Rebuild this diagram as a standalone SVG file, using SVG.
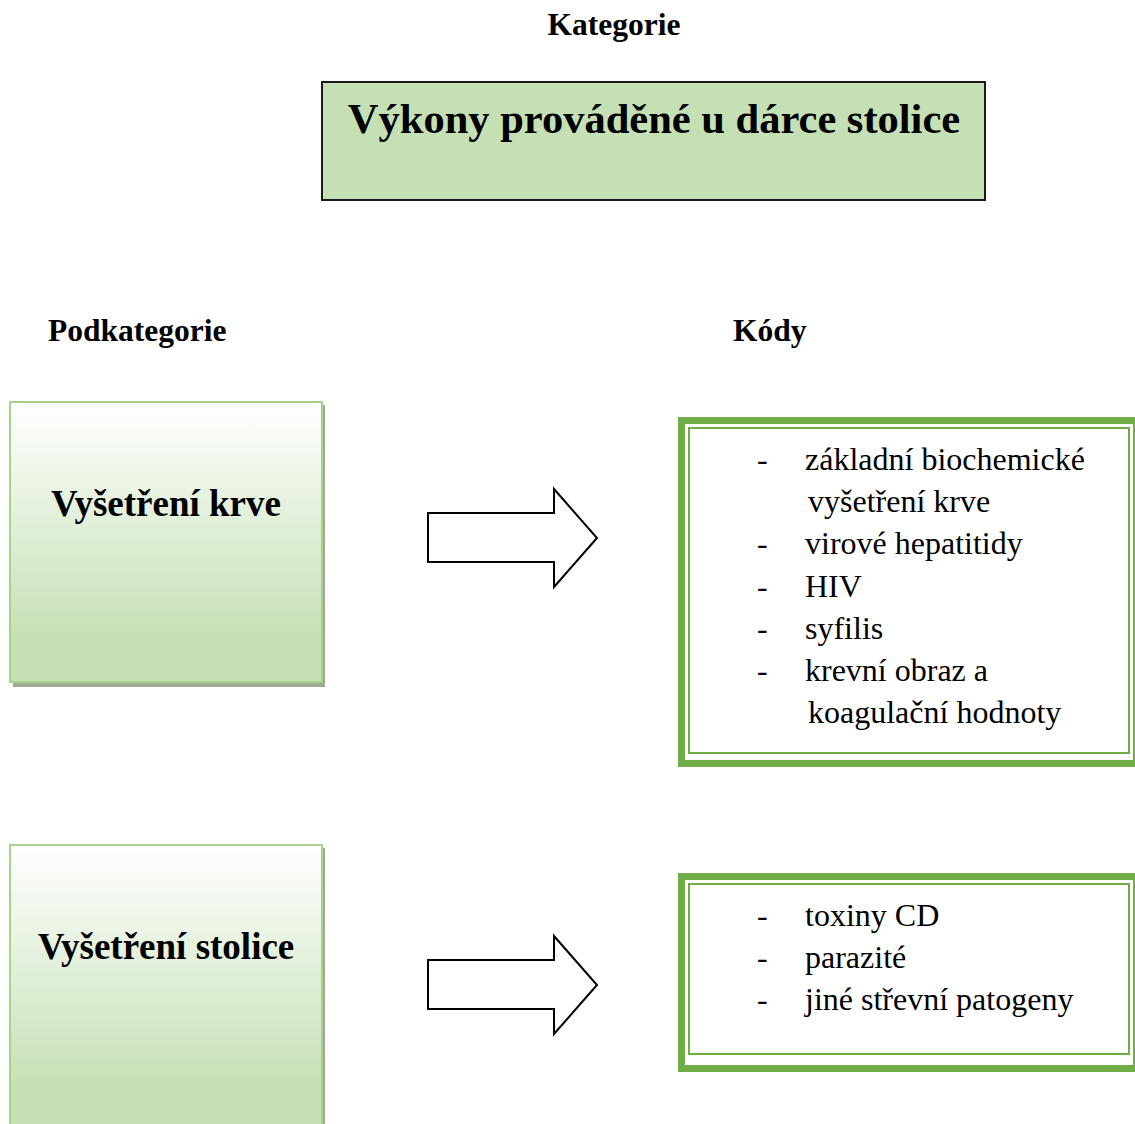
<svg xmlns="http://www.w3.org/2000/svg" width="1135" height="1124" viewBox="0 0 1135 1124">
<style>
.hdr{font-family:"Liberation Serif","Times New Roman",serif;font-weight:bold;font-size:31.5px;fill:#000}
.title{font-family:"Liberation Serif","Times New Roman",serif;font-weight:bold;font-size:42.5px;fill:#000}
.sub{font-family:"Liberation Serif","Times New Roman",serif;font-weight:bold;font-size:37px;fill:#000}
.item{font-family:"Liberation Serif","Times New Roman",serif;font-size:32px;fill:#000}
.subbox{fill:url(#grad);stroke:#a9d18e;stroke-width:2}
.shadow{fill:#9eab94}
.thick{fill:#fff;stroke:#70ad47;stroke-width:7}
.thin{fill:none;stroke:#70ad47;stroke-width:2}
.arrow{fill:#fff;stroke:#000;stroke-width:2;stroke-linejoin:miter}
</style>
<defs>
<linearGradient id="grad" x1="0" y1="0" x2="0" y2="1">
<stop offset="0" stop-color="#ffffff"/>
<stop offset="0.85" stop-color="#c5e0b4"/>
<stop offset="1" stop-color="#c5e0b4"/>
</linearGradient>
</defs>
<rect width="1135" height="1124" fill="#fff"/>
<g id="labels">
<text class="hdr" x="614" y="35" text-anchor="middle">Kategorie</text>
<text class="hdr" x="48" y="341">Podkategorie</text>
<text class="hdr" x="733" y="341">Kódy</text>
</g>
<g id="category">
<rect x="322" y="82" width="663" height="118" fill="#c5e0b4" stroke="#1a1a1a" stroke-width="2"/>
<text class="title" x="654" y="133" text-anchor="middle">Výkony prováděné u dárce stolice</text>
</g>
<g id="sub-krev">
<rect class="shadow" x="13" y="405" width="312" height="282"/>
<rect class="subbox" x="10" y="402" width="312" height="280"/>
<text class="sub" x="166" y="516" text-anchor="middle">Vyšetření krve</text>
</g>
<g id="sub-stolice">
<rect class="shadow" x="13" y="848" width="312" height="290"/>
<rect class="subbox" x="10" y="845" width="312" height="290"/>
<text class="sub" x="166" y="959" text-anchor="middle">Vyšetření stolice</text>
</g>
<g id="codes-krev">
<rect class="thick" x="681.5" y="420.5" width="455" height="343"/>
<rect class="thin" x="689" y="428" width="440" height="325"/>
<g class="item">
<text x="757" y="470">-</text><text x="805" y="470">základní biochemické</text>
<text x="808" y="512">vyšetření krve</text>
<text x="757" y="554">-</text><text x="805" y="554">virové hepatitidy</text>
<text x="757" y="597">-</text><text x="805" y="597">HIV</text>
<text x="757" y="639">-</text><text x="805" y="639">syfilis</text>
<text x="757" y="681">-</text><text x="805" y="681">krevní obraz a</text>
<text x="808" y="723">koagulační hodnoty</text>
</g>
</g>
<g id="codes-stolice">
<rect class="thick" x="681.5" y="876.5" width="455" height="192"/>
<rect class="thin" x="689" y="884" width="440" height="170"/>
<g class="item">
<text x="757" y="926">-</text><text x="805" y="926">toxiny CD</text>
<text x="757" y="968">-</text><text x="805" y="968">parazité</text>
<text x="757" y="1010">-</text><text x="805" y="1010">jiné střevní patogeny</text>
</g>
</g>
<g id="connectors">
<polygon class="arrow" points="428,513 554,513 554,489 597,538 554,587 554,562 428,562"/>
<polygon class="arrow" points="428,960 554,960 554,936 597,985 554,1034 554,1009 428,1009"/>
</g>
</svg>
